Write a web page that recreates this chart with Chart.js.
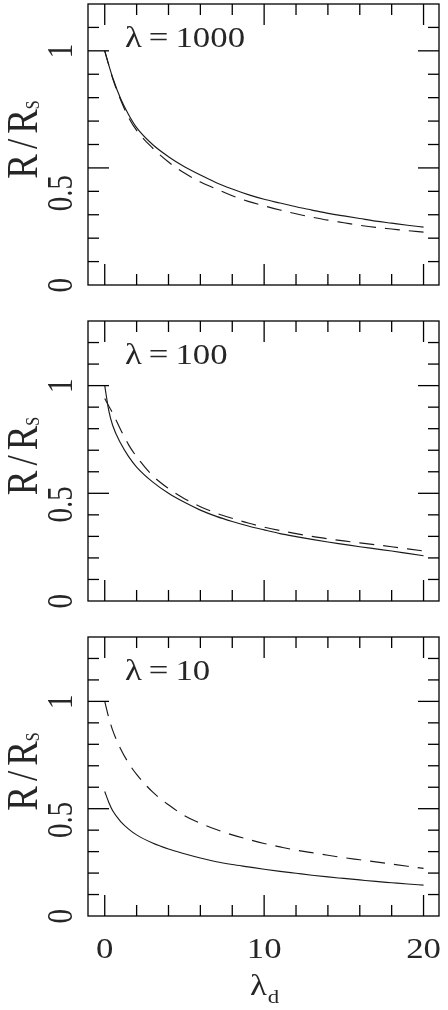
<!DOCTYPE html>
<html>
<head>
<meta charset="utf-8">
<script src="https://cdn.jsdelivr.net/npm/chart.js@4.4.1/dist/chart.umd.min.js"></script>
<style>
  html, body { margin: 0; padding: 0; background: #fff; }
  body { width: 448px; height: 1010px; position: relative; overflow: hidden; }
  canvas { position: absolute; left: 0; }
</style>
</head>
<body>
<canvas id="panel-1000" width="448" height="310" style="top:0"></canvas>
<canvas id="panel-100" width="448" height="316" style="top:310px"></canvas>
<canvas id="panel-10" width="448" height="384" style="top:626px"></canvas>
<script>
// lambda_d sample points shared by every curve
const xValues = [0, 0.25, 0.5, 1, 1.5, 2, 3, 4, 5, 6, 7, 8, 9, 10, 11, 12, 13, 14, 15, 16, 17, 18, 19, 20];

// R/R_s, solid and dashed curve per panel
const solid1000  = [1.0, 0.94, 0.885, 0.795, 0.727, 0.672, 0.60, 0.548, 0.505, 0.47, 0.437, 0.41, 0.386, 0.366, 0.35, 0.334, 0.32, 0.306, 0.295, 0.284, 0.273, 0.264, 0.255, 0.247];
const dashed1000 = [1.0, 0.94, 0.882, 0.79, 0.715, 0.66, 0.585, 0.525, 0.478, 0.44, 0.41, 0.381, 0.357, 0.338, 0.32, 0.304, 0.29, 0.277, 0.266, 0.255, 0.246, 0.239, 0.232, 0.226];
const solid100   = [1.0, 0.885, 0.815, 0.732, 0.67, 0.622, 0.553, 0.50, 0.458, 0.422, 0.393, 0.369, 0.348, 0.33, 0.313, 0.299, 0.286, 0.274, 0.263, 0.252, 0.242, 0.232, 0.221, 0.21];
const dashed100  = [0.94, 0.905, 0.872, 0.795, 0.725, 0.67, 0.582, 0.522, 0.475, 0.438, 0.408, 0.384, 0.362, 0.343, 0.327, 0.313, 0.30, 0.289, 0.279, 0.27, 0.261, 0.252, 0.242, 0.232];
const solid10    = [0.58, 0.53, 0.49, 0.44, 0.405, 0.378, 0.34, 0.312, 0.29, 0.27, 0.253, 0.24, 0.229, 0.218, 0.208, 0.199, 0.19, 0.182, 0.175, 0.168, 0.161, 0.155, 0.149, 0.144];
const dashed10   = [1.0, 0.925, 0.865, 0.778, 0.712, 0.66, 0.578, 0.518, 0.468, 0.432, 0.403, 0.378, 0.357, 0.338, 0.322, 0.307, 0.295, 0.283, 0.272, 0.262, 0.252, 0.242, 0.232, 0.222];

const panelLabels = ['λ\u2009=\u20091000', 'λ\u2009=\u2009100', 'λ\u2009=\u200910'];

// axis ticks
const xTicks = [0, 2, 4, 6, 8, 10, 12, 14, 16, 18, 20];
const xMajor = [0, 10, 20];
const xTickLabels = ['0', '10', '20'];
const yTicks = [0.1, 0.2, 0.3, 0.4, 0.5, 0.6, 0.7, 0.8, 0.9, 1.0, 1.1, 1.2];
const yMajor = [0, 0.5, 1];
const yTickLabels = ['0', '0.5', '1'];

const INK = '#000';
const TEXT = '#262626';
const LINE = '#1a1a1a';
const SERIF = '"Liberation Serif", "DejaVu Serif", serif';
const STRETCH = 1.2; // the original lettering is drawn wide

function seg(ctx, x1, y1, x2, y2) {
  ctx.beginPath();
  ctx.moveTo(x1, y1);
  ctx.lineTo(x2, y2);
  ctx.stroke();
}

// text drawn wide like the original, optionally reading bottom to top
function text(ctx, str, x, y, size, align, rotated) {
  ctx.save();
  ctx.translate(x, y);
  ctx.scale(STRETCH, 1);
  if (rotated) ctx.rotate(-Math.PI / 2);
  ctx.font = size + 'px ' + SERIF;
  ctx.textAlign = align;
  ctx.textBaseline = 'alphabetic';
  ctx.fillText(str, 0, 0);
  ctx.restore();
}

function width(ctx, str, size) {
  ctx.font = size + 'px ' + SERIF;
  return ctx.measureText(str).width;
}

/**
 * Box, inward ticks on all four sides and the texts,
 * all placed through the chart's own scales
 */
const frame = {
  id: 'frame',
  afterDraw(chart, args, opts) {
    const { ctx, chartArea: a, scales: { x, y } } = chart;
    ctx.save();
    ctx.strokeStyle = INK;
    ctx.lineWidth = 1.3;
    ctx.strokeRect(a.left, a.top, a.right - a.left, a.bottom - a.top);

    xTicks.forEach(v => {
      const px = x.getPixelForValue(v);
      const len = xMajor.includes(v) ? 21 : 11;
      seg(ctx, px, a.bottom, px, a.bottom - len);
      seg(ctx, px, a.top, px, a.top + len);
    });
    yTicks.filter(v => v < y.max - 1e-6).forEach(v => {
      const py = y.getPixelForValue(v);
      const len = yMajor.some(m => Math.abs(m - v) < 1e-6) ? 21 : 11;
      seg(ctx, a.left, py, a.left + len, py);
      seg(ctx, a.right, py, a.right - len, py);
    });

    ctx.fillStyle = TEXT;

    // panel label
    text(ctx, opts.label, 125, a.top + 42.5, 29, 'left', false);

    // y tick labels, reading upwards
    yMajor.forEach((v, i) => {
      const drop = v === 0.5 ? (opts.halfDrop || 0) : 0;
      text(ctx, yTickLabels[i], 71.5, y.getPixelForValue(v) - 7 + drop, 29, 'right', true);
    });

    // y title R/R_S, reading upwards
    ctx.save();
    ctx.translate(37, (a.top + a.bottom) / 2 - 5);
    ctx.scale(STRETCH, 1);
    ctx.rotate(-Math.PI / 2);
    const wR = width(ctx, 'R', 37);
    const wSl = width(ctx, '/', 37);
    const wS = width(ctx, 'S', 16);
    const gap = 5;
    let pos = -(wR * 2 + wSl + wS + gap * 2) / 2;
    ctx.textAlign = 'left';
    ctx.font = '37px ' + SERIF;
    ctx.fillText('R', pos, 0); pos += wR + gap;
    ctx.fillText('/', pos, 0); pos += wSl + gap;
    ctx.fillText('R', pos, 0); pos += wR;
    ctx.font = '16px ' + SERIF;
    ctx.fillText('S', pos, 1.5);
    ctx.restore();

    if (opts.bottomAxis) {
      xMajor.forEach((v, i) => text(ctx, xTickLabels[i], x.getPixelForValue(v), a.bottom + 42, 29, 'center', false));

      // x title lambda_d
      const wl = width(ctx, 'λ', 29) * STRETCH;
      const wd = width(ctx, 'd', 19) * STRETCH;
      const left = x.getPixelForValue(10) - (wl + wd) / 2;
      text(ctx, 'λ', left, a.bottom + 79, 29, 'left', false);
      text(ctx, 'd', left + wl + 1, a.bottom + 87, 19, 'left', false);
    }
    ctx.restore();
  }
};

function series(ys) {
  return xValues.map((x, i) => ({ x: x, y: ys[i] }));
}

function panel(selector, solid, dashed, label, yMax, padding, extra) {
  const ctx = document.querySelector(selector).getContext('2d');
  new Chart(ctx, {
    type: 'line',
    data: {
      datasets: [
        { data: series(solid), borderColor: LINE, borderWidth: 1.15, pointRadius: 0, cubicInterpolationMode: 'monotone' },
        { data: series(dashed), borderColor: LINE, borderWidth: 1.15, borderDash: [15, 9], pointRadius: 0, cubicInterpolationMode: 'monotone' }
      ]
    },
    options: {
      responsive: false,
      animation: false,
      layout: { padding: padding },
      scales: {
        x: { type: 'linear', min: -1.05, max: 20.97, display: false },
        y: { type: 'linear', min: 0, max: yMax, display: false }
      },
      plugins: {
        legend: { display: false },
        tooltip: { enabled: false },
        frame: Object.assign({ label: label }, extra)
      }
    },
    plugins: [frame]
  });
}

panel('#panel-1000', solid1000, dashed1000, panelLabels[0], 1.2, { left: 88, right: 9, top: 4, bottom: 25 }, { halfDrop: 14 });
panel('#panel-100', solid100, dashed100, panelLabels[1], 1.3, { left: 88, right: 9, top: 11, bottom: 25 }, {});
panel('#panel-10', solid10, dashed10, panelLabels[2], 1.3, { left: 88, right: 9, top: 11, bottom: 94 }, { bottomAxis: true });
</script>
</body>
</html>
